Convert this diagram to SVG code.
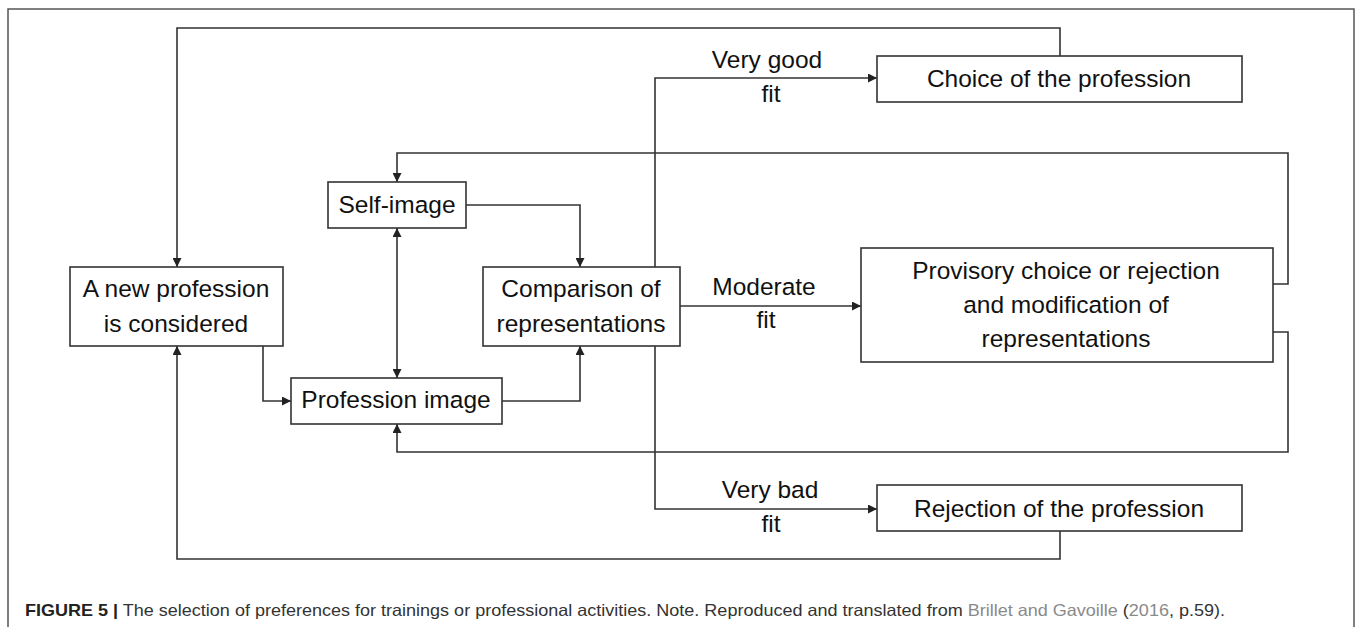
<svg xmlns="http://www.w3.org/2000/svg" width="1357" height="627" viewBox="0 0 1357 627">
<defs>
<style>
.box{fill:#fff;stroke:#333;stroke-width:1.6}
.t{font-family:"Liberation Sans",Arial,sans-serif;font-size:24.5px;fill:#111;text-anchor:middle}
.c{fill:none;stroke:#333;stroke-width:1.6}
.cap{font-family:"Liberation Sans",Arial,sans-serif;font-size:16.5px;fill:#333}
</style>
<marker id="ah" viewBox="0 0 10 10" refX="10" refY="5" markerWidth="9" markerHeight="9" markerUnits="userSpaceOnUse" orient="auto-start-reverse">
<path d="M0,0 L10,5 L0,10 z" fill="#222"/>
</marker>
</defs>
<rect x="8" y="9" width="1346" height="660" fill="none" stroke="#555" stroke-width="1.5"/>
<g id="connectors">
<path class="c" d="M1060 56 V28 H177 V267" marker-end="url(#ah)"/>
<path class="c" d="M655 267 V78 H877" marker-end="url(#ah)"/>
<path class="c" d="M1273 284 H1288 V153 H397 V182" marker-end="url(#ah)"/>
<path class="c" d="M466 205 H580 V267" marker-end="url(#ah)"/>
<path class="c" d="M397 228 V378" marker-start="url(#ah)" marker-end="url(#ah)"/>
<path class="c" d="M263 346 V401 H291" marker-end="url(#ah)"/>
<path class="c" d="M502 401 H580 V346" marker-end="url(#ah)"/>
<path class="c" d="M680 306 H861" marker-end="url(#ah)"/>
<path class="c" d="M1273 332 H1288 V452 H397 V424" marker-end="url(#ah)"/>
<path class="c" d="M655 346 V509 H877" marker-end="url(#ah)"/>
<path class="c" d="M1060 531 V559 H177 V346" marker-end="url(#ah)"/>
<text class="t" x="767" y="68">Very good</text>
<text class="t" x="771" y="102">fit</text>
<text class="t" x="764" y="295">Moderate</text>
<text class="t" x="766" y="328">fit</text>
<text class="t" x="770" y="498">Very bad</text>
<text class="t" x="771" y="532">fit</text>
</g>
<g id="new-profession">
<rect class="box" x="70" y="267" width="213" height="79"/>
<text class="t" x="176" y="297">A new profession</text>
<text class="t" x="176" y="332">is considered</text>
</g>
<g id="self-image">
<rect class="box" x="328" y="182" width="138" height="46"/>
<text class="t" x="397" y="213">Self-image</text>
</g>
<g id="profession-image">
<rect class="box" x="291" y="378" width="211" height="46"/>
<text class="t" x="396" y="408">Profession image</text>
</g>
<g id="comparison">
<rect class="box" x="483" y="267" width="197" height="79"/>
<text class="t" x="581" y="297">Comparison of</text>
<text class="t" x="581" y="332">representations</text>
</g>
<g id="choice">
<rect class="box" x="877" y="56" width="365" height="46"/>
<text class="t" x="1059" y="87">Choice of the profession</text>
</g>
<g id="provisory">
<rect class="box" x="861" y="248" width="412" height="114"/>
<text class="t" x="1066" y="279">Provisory choice or rejection</text>
<text class="t" x="1066" y="313">and modification of</text>
<text class="t" x="1066" y="347">representations</text>
</g>
<g id="rejection">
<rect class="box" x="877" y="485" width="365" height="46"/>
<text class="t" x="1059" y="517">Rejection of the profession</text>
</g>
<text class="cap" x="25" y="616" textLength="1200" lengthAdjust="spacingAndGlyphs"><tspan font-weight="bold" fill="#222">FIGURE 5 |</tspan> The selection of preferences for trainings or professional activities. Note. Reproduced and translated from <tspan fill="#8a8a8a">Brillet and Gavoille</tspan> (<tspan fill="#8a8a8a">2016</tspan>, p.59).</text>
</svg>
